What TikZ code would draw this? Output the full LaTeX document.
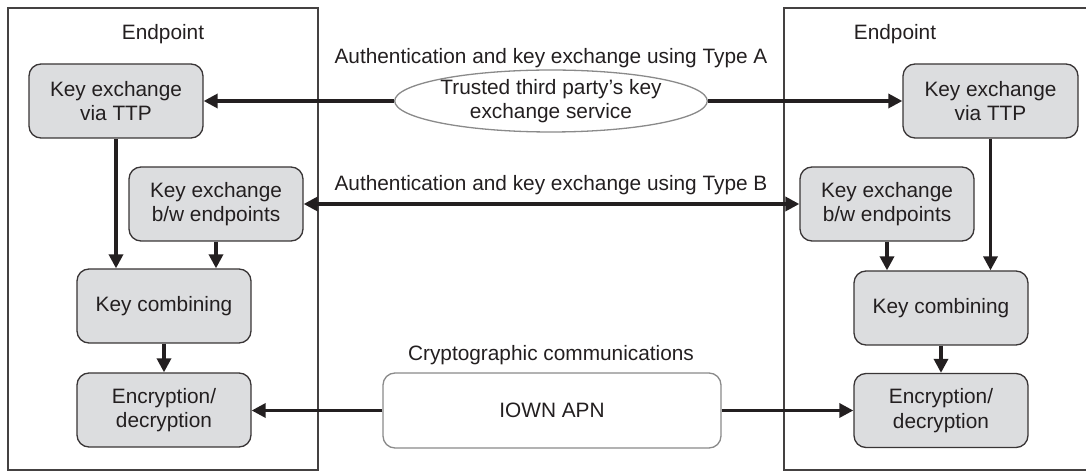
\documentclass[tikz,border=0pt]{standalone}
\usepackage{fontspec}
\setmainfont{Liberation Sans}
\usetikzlibrary{arrows.meta,shapes.geometric}
\definecolor{ink}{HTML}{231F20}
\definecolor{boxfill}{HTML}{DCDDDF}
\definecolor{softedge}{HTML}{8A8A8A}
\tikzset{
  every node/.style={text=ink, font=\fontsize{20.9}{24.5}\selectfont, align=center},
  proc/.style={draw=ink!90, line width=1.3bp, fill=boxfill, rounded corners=12bp,
    minimum width=174bp, minimum height=74bp, inner sep=0pt},
  frame/.style={draw=ink!85, line width=2bp},
  flow/.style={draw=ink, line width=3.3bp, -{Triangle[length=14bp,width=14bp]}},
  flowboth/.style={draw=ink, line width=3.3bp, {Triangle[length=14bp,width=14bp]}-{Triangle[length=14bp,width=14bp]}},
  lbl/.style={inner sep=0pt}
}
\begin{document}
\begin{tikzpicture}[x=1bp,y=-1bp]
\useasboundingbox (0,0) rectangle (1086,472);
\clip (0,0) rectangle (1086,472);

% endpoint frames
\draw[frame] (8,8) rectangle (318,470);
\draw[frame] (784,8) rectangle (1110,470);
\node[lbl] (lep) at (163,34) {Endpoint};
\node[lbl] (rep) at (895,34) {Endpoint};

% left endpoint blocks
\node[proc] (lttp) at (116,101) {Key exchange\\via TTP};
\node[proc] (lbw)  at (216,204) {Key exchange\\b/w endpoints};
\node[proc] (lkc)  at (164,306) {Key combining};
\node[proc] (led)  at (164,410) {Encryption/\\decryption};

% right endpoint blocks
\node[proc, minimum width=175bp] (rttp) at (990.5,101) {Key exchange\\via TTP};
\node[proc] (rbw)  at (887,204) {Key exchange\\b/w endpoints};
\node[proc] (rkc)  at (941,308) {Key combining};
\node[proc] (red)  at (941,410.5) {Encryption/\\decryption};

% shared services
\node[ellipse, draw=softedge, line width=1.3bp, fill=white, minimum width=308bp,
  minimum height=55bp, inner sep=0pt] (ttp) at (551,101) {Trusted third party’s key\\exchange service};
\node[draw=softedge, line width=1.3bp, fill=white, rounded corners=12bp,
  minimum width=338bp, minimum height=75bp, inner sep=0pt] (apn) at (552,410.5) {IOWN APN};

% channel labels
\node[lbl] (ta) at (551,58) {Authentication and key exchange using Type A};
\node[lbl] (tb) at (551,185) {Authentication and key exchange using Type B};
\node[lbl] (cc) at (551,355) {Cryptographic communications};

% connectors
\draw[flow] (ttp.west) -- (lttp.east);
\draw[flow] (ttp.east) -- (rttp.west);
\draw[flowboth] (lbw.east) -- (rbw.west);
\draw[flow] (apn.west) -- (apn.west -| led.east);
\draw[flow] (apn.east) -- (apn.east -| red.west);

\draw[flow] (lttp.south) -- (lttp.south |- lkc.north);
\draw[flow] (lbw.south) -- (lbw.south |- lkc.north);
\draw[flow] (lkc.south) -- (led.north);

\draw[flow] (rttp.south) -- (rttp.south |- rkc.north);
\draw[flow] (rbw.south) -- (rbw.south |- rkc.north);
\draw[flow] (rkc.south) -- (red.north);
\end{tikzpicture}
\end{document}
